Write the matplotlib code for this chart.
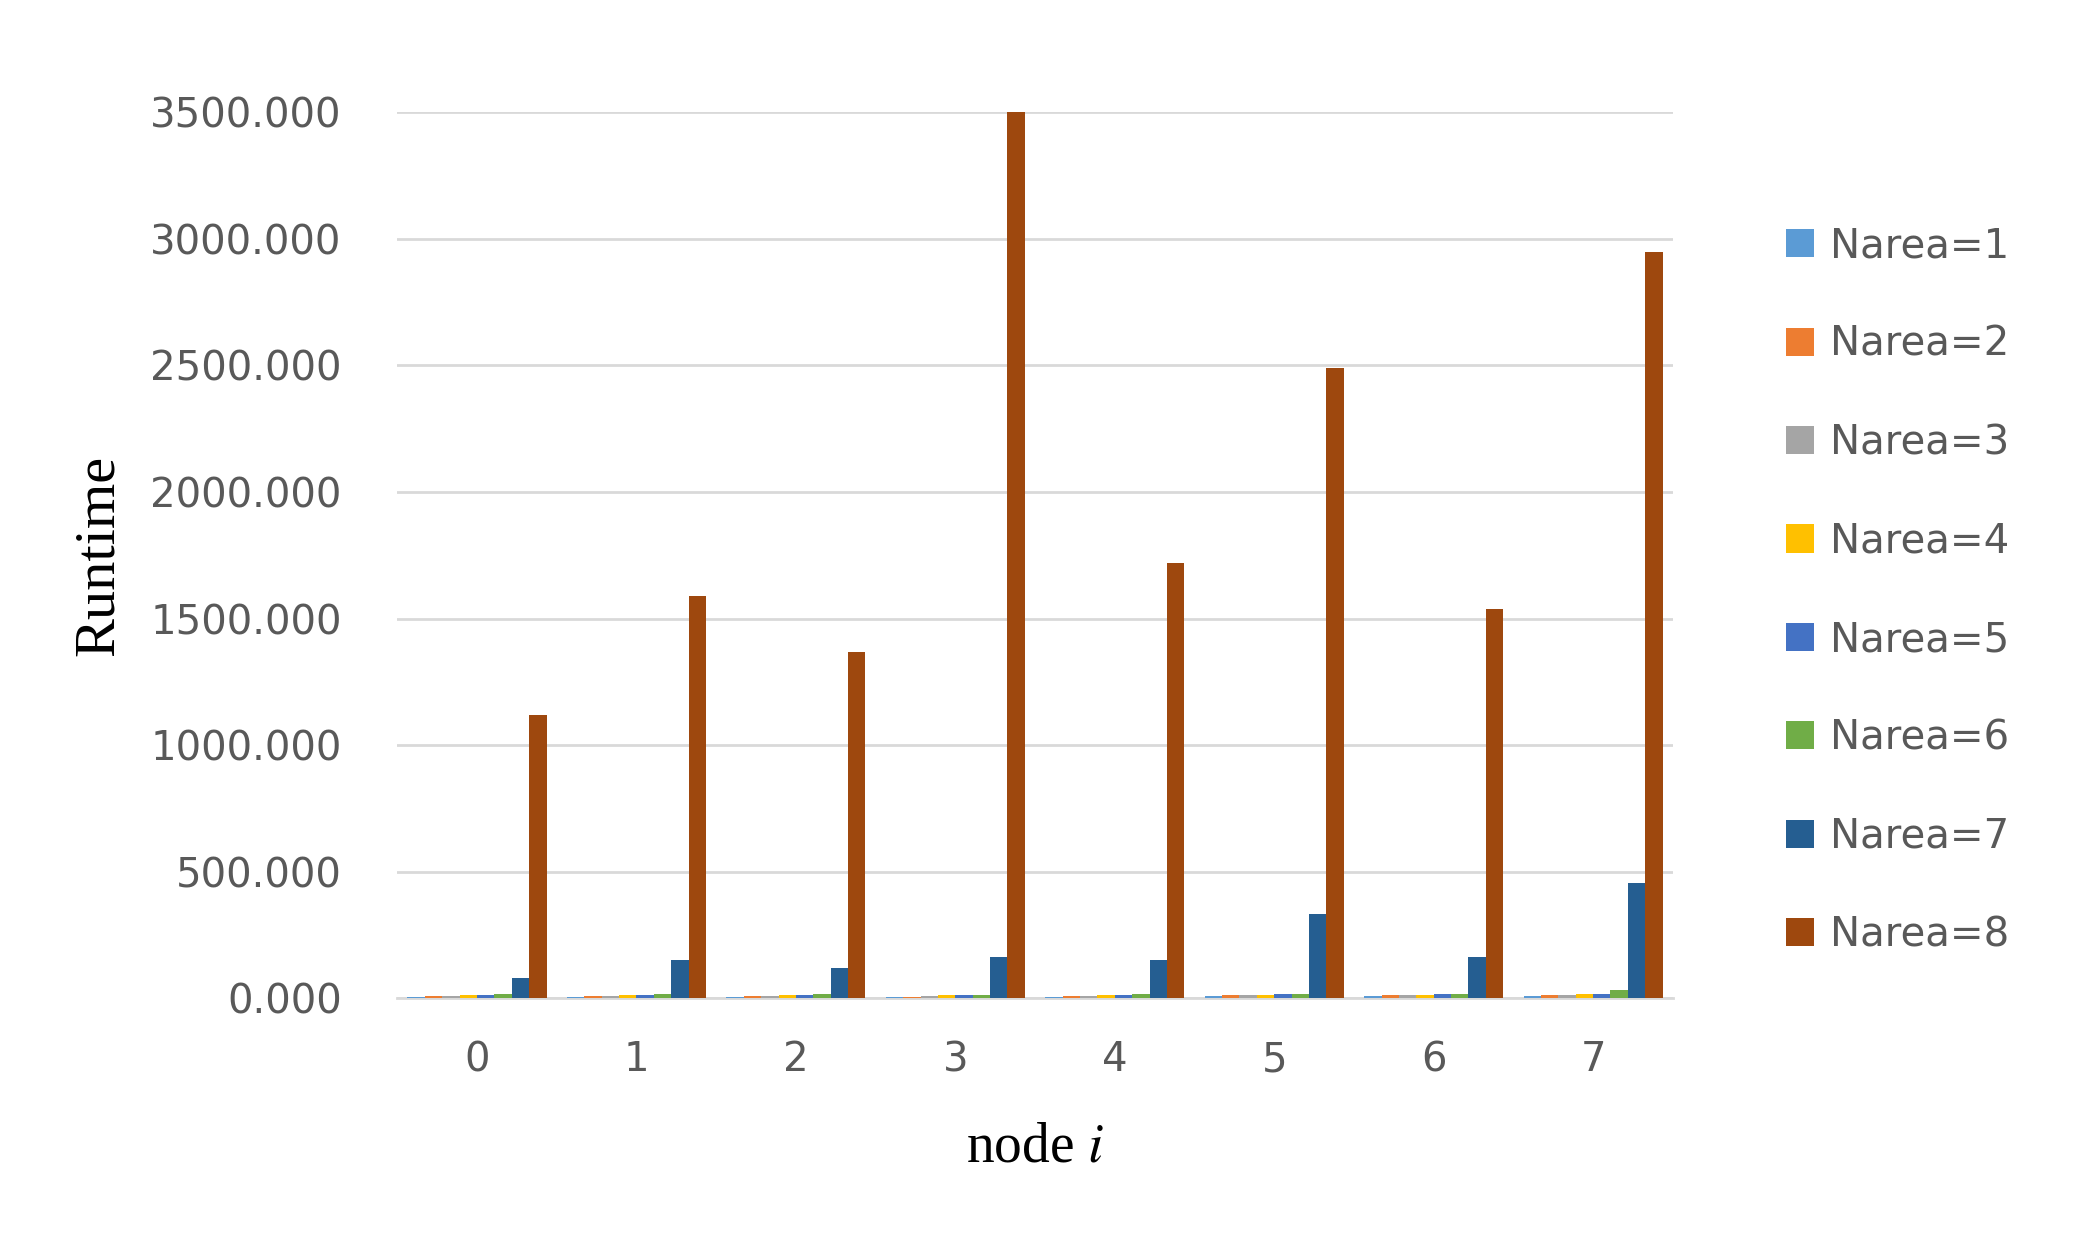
import matplotlib.pyplot as plt
import numpy as np

plt.rcParams['mathtext.fontset'] = 'stix'

nodes = [0, 1, 2, 3, 4, 5, 6, 7]
series_names = ["Narea=1", "Narea=2", "Narea=3", "Narea=4",
                "Narea=5", "Narea=6", "Narea=7", "Narea=8"]
narea1 = [6, 6, 6, 4, 6, 8, 8, 8]
narea2 = [9, 9, 9, 7, 9, 12, 12, 13]
narea3 = [11, 11, 11, 9, 11, 13, 13, 14]
narea4 = [13, 13, 13, 12, 13, 15, 15, 16]
narea5 = [14, 14, 14, 13, 14, 16, 16, 18]
narea6 = [16, 16, 16, 14, 16, 18, 18, 32]
narea7 = [80, 150, 120, 165, 150, 335, 165, 455]
narea8 = [1120, 1590, 1370, 3520, 1720, 2490, 1540, 2950]
values = [narea1, narea2, narea3, narea4, narea5, narea6, narea7, narea8]
colors = ['#5B9BD5', '#ED7D31', '#A5A5A5', '#FFC000',
          '#4472C4', '#70AD47', '#255E91', '#9E480E']

fig = plt.figure(figsize=(20.91, 12.48), dpi=100, facecolor='white')
ax = fig.add_axes([0.19, 0.2, 0.61, 0.71])

x = np.arange(len(nodes))
w = 0.109
for i, (name, vals, c) in enumerate(zip(series_names, values, colors)):
    ax.bar(x + (i - 3.5) * w, vals, width=w, color=c, label=name, zorder=3)

ax.set_ylim(0, 3500)
ax.set_xlim(-0.5, 7.5)
ax.set_yticks(np.arange(0, 3501, 500))
ax.set_yticklabels([f"{v:.3f}" for v in np.arange(0, 3501, 500)])
ax.set_xticks(x)
ax.set_xticklabels([str(n) for n in nodes])
ax.grid(axis='y', color='#D9D9D9', linewidth=2, zorder=0)
for s in ['top', 'right', 'left']:
    ax.spines[s].set_visible(False)
ax.spines['bottom'].set_color('#D9D9D9')
ax.spines['bottom'].set_linewidth(2)
ax.tick_params(axis='both', length=0, labelsize=29, labelcolor='#595959', pad=30)
ax.tick_params(axis='y', pad=40)

ax.set_ylabel("Runtime", family='Liberation Serif', fontsize=42, labelpad=18)
ax.set_xlabel("node $\\mathit{i}$", family='Liberation Serif', fontsize=40, labelpad=30)

ax.legend(loc='center left', bbox_to_anchor=(1.06, 0.46), frameon=False,
          fontsize=29, labelcolor='#595959', handlelength=0.7, handleheight=0.7,
          labelspacing=1.45, handletextpad=0.4)

fig.savefig("out.png", dpi=100, facecolor='white')
